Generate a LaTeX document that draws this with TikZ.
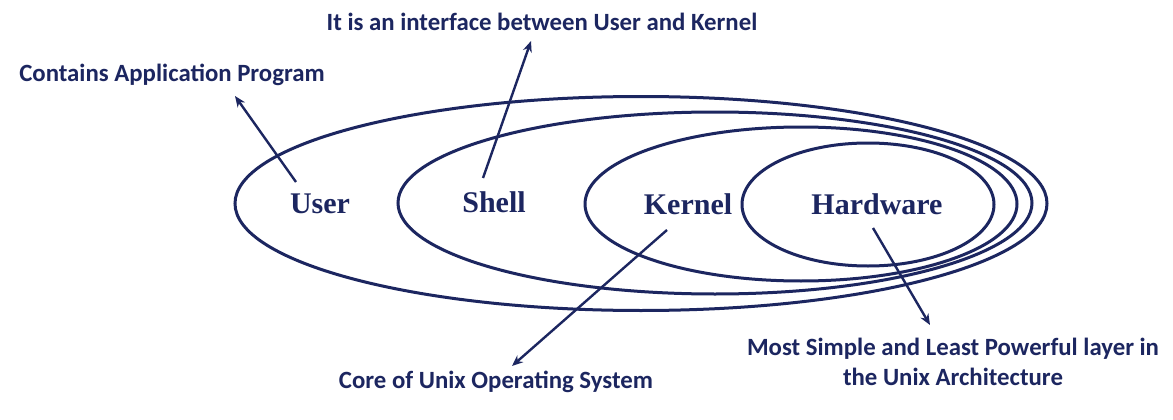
\documentclass[tikz,border=0pt]{standalone}
\usepackage{fontspec}
\setmainfont{Liberation Serif}
\newfontfamily\annfont{Carlito}
\usetikzlibrary{arrows.meta}
\definecolor{navy}{HTML}{1C2660}
\tikzset{
  layer/.style={draw=navy, line width=3pt},
  lbl/.style={text=navy, font=\fontsize{30}{32}\selectfont\bfseries, inner sep=0pt},
  ann/.style={text=navy, font=\annfont\fontsize{24.8}{30}\selectfont\bfseries, inner sep=0pt, align=center},
  pointer/.style={draw=navy, line width=2.4pt, -{Stealth[length=11pt,width=9pt]}}
}
\begin{document}
\begin{tikzpicture}[x=1pt,y=-1pt]
\useasboundingbox (0,0) rectangle (1173,420);
\fill[white] (0,0) rectangle (1173,420);
% layers
\draw[layer] (641,203.5) ellipse [x radius=406, y radius=107];
\draw[layer] (715,203) ellipse [x radius=317, y radius=91];
\draw[layer] (801,204) ellipse [x radius=216, y radius=77];
\draw[layer] (868,204.5) ellipse [x radius=126, y radius=61.5];
% labels
\node[lbl] (user) at (320,204) {User};
\node[lbl] (shell) at (494,202) {Shell};
\node[lbl] (kernel) at (688,204) {Kernel};
\node[lbl] (hw) at (877,204) {Hardware};
% annotations
\node[ann] (a1) at (172,75) {Contains Application Program};
\node[ann] (a2) at (542,22) {It is an interface between User and Kernel};
\node[ann] (a3) at (496,382) {Core of Unix Operating System};
\node[ann] (a4) at (953,362) {Most Simple and Least Powerful layer in\\the Unix Architecture};
% arrow endpoints
\coordinate (u0) at (296,182);
\coordinate (u1) at (235,96);
\coordinate (s0) at (483,178);
\coordinate (s1) at (531,41);
\coordinate (k0) at (667,230);
\coordinate (k1) at (512,366);
\coordinate (h0) at (873,228);
\coordinate (h1) at (930,325);
\draw[pointer] (u0) -- (u1);
\draw[pointer] (s0) -- (s1);
\draw[pointer] (k0) -- (k1);
\draw[pointer] (h0) -- (h1);
\end{tikzpicture}
\end{document}
